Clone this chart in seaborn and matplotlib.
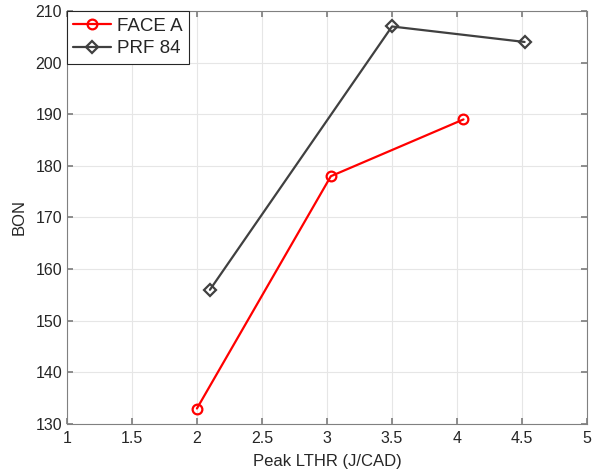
import matplotlib
matplotlib.use("Agg")
import matplotlib.pyplot as plt
import seaborn as sns

face_x = [2.0, 3.03, 4.05]
face_y = [133, 178, 189]
prf_x = [2.1, 3.5, 4.52]
prf_y = [156, 207, 204]
xticks = [1, 1.5, 2, 2.5, 3, 3.5, 4, 4.5, 5]
xtick_labels = ["1", "1.5", "2", "2.5", "3", "3.5", "4", "4.5", "5"]
yticks = [130, 140, 150, 160, 170, 180, 190, 200, 210]

sns.set_theme(style="whitegrid")
plt.rcParams['font.family'] = ['Liberation Sans', 'DejaVu Sans']

fig = plt.figure(figsize=(5.92, 4.74), dpi=100)
ax = fig.add_axes([0.113, 0.1055, 0.8786, 0.8713])

sns.lineplot(x=face_x, y=face_y, ax=ax, color="#ff0000", lw=1.6, marker="o",
             markersize=7, markerfacecolor="none", markeredgecolor="#ff0000",
             markeredgewidth=1.6, label="FACE A", sort=False)
sns.lineplot(x=prf_x, y=prf_y, ax=ax, color="#404040", lw=1.6, marker="D",
             markersize=6, markerfacecolor="none", markeredgecolor="#404040",
             markeredgewidth=1.6, label="PRF 84", sort=False)

ax.set_xlim(1, 5)
ax.set_ylim(130, 210)
ax.set_xticks(xticks)
ax.set_xticklabels(xtick_labels)
ax.set_yticks(yticks)
ax.set_facecolor("white")
ax.grid(True, color="#e6e6e6", lw=0.8)
for s in ax.spines.values():
    s.set_visible(True)
    s.set_color("#808080")
    s.set_linewidth(0.8)
ax.tick_params(direction="in", length=4, color="#808080", labelsize=11.5,
               labelcolor="#262626", top=True, right=True, bottom=True, left=True)
ax.tick_params(axis="x", pad=5)
ax.set_xlabel("Peak LTHR (J/CAD)", fontsize=12, color="#262626", labelpad=6)
ax.set_ylabel("BON", fontsize=12, color="#262626", labelpad=6)

leg = ax.legend(loc="upper left", fontsize=13.5, frameon=True, fancybox=False,
                borderaxespad=0.0, handlelength=2.0, handletextpad=0.3,
                borderpad=0.35, labelspacing=0.3)
leg.get_frame().set_edgecolor("#262626")
leg.get_frame().set_linewidth(0.8)
leg.get_frame().set_alpha(1)

fig.savefig("out.png", dpi=100)
